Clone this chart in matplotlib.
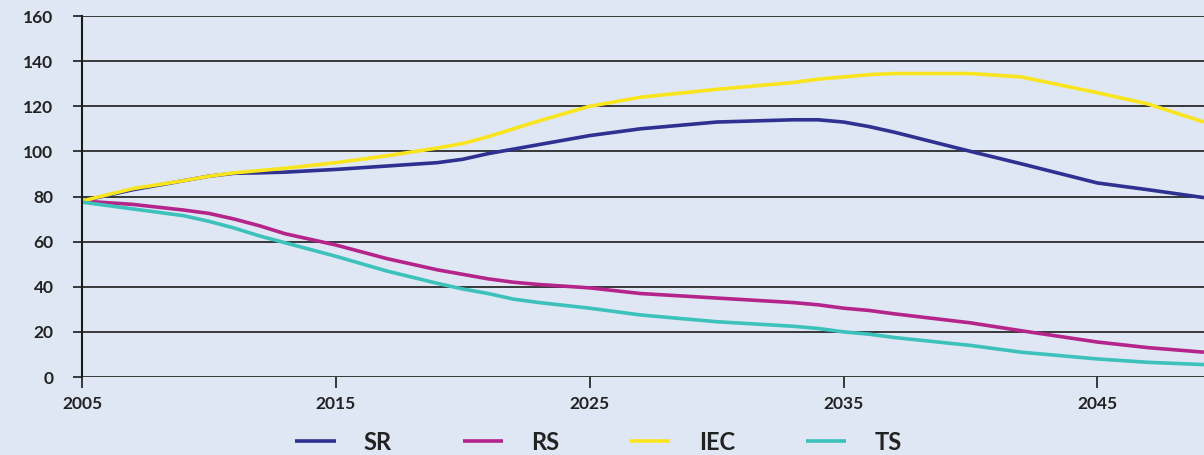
import numpy as np
import matplotlib
matplotlib.use("Agg")
from matplotlib import pyplot as plt

years = [2005, 2007, 2009, 2010, 2011, 2012, 2013, 2015, 2017, 2019, 2020, 2021, 2022, 2023,
         2025, 2027, 2030, 2033, 2034, 2035, 2036, 2037, 2040, 2042, 2045, 2047, 2049.2]

sr = [78, 83, 87, 89, 90.3, 90.5, 90.8, 92, 93.5, 95, 96.5, 99, 101, 103,
      107, 110, 113, 114, 114, 113, 111, 108.5, 100, 94.5, 86, 83, 79.5]
iec = [78, 83.5, 87, 89, 90.5, 91.5, 92.5, 95, 98, 101.5, 103.5, 106.5, 110, 113.5,
       120, 124, 127.5, 130.5, 132, 133, 134, 134.5, 134.5, 133, 126, 121, 113]
rs = [78, 76.5, 74, 72.5, 70, 67, 63.5, 58.5, 52.5, 47.5, 45.5, 43.5, 42, 41,
      39.5, 37, 35, 33, 32, 30.5, 29.5, 28, 24, 20.5, 15.5, 13, 11]
ts = [77.5, 74.5, 71.5, 69, 66, 62.5, 59.5, 53.5, 47, 41.5, 39, 37, 34.5, 33,
      30.5, 27.5, 24.5, 22.5, 21.5, 20, 19, 17.5, 14, 11, 8, 6.5, 5.5]

names = ["SR", "RS", "IEC", "TS"]
series = [sr, rs, iec, ts]
colors = ["#2e3191", "#b5248a", "#f9e51e", "#3cc1bb"]

bg = "#dfe7f4"
plt.rcParams['font.family'] = ['Lato', 'DejaVu Sans']

fig = plt.figure(figsize=(12.04, 4.55), dpi=100, facecolor=bg)
ax = fig.add_axes([82/1204, 78/455, 1 - 82/1204, (377-16)/455])
ax.set_facecolor(bg)

ax.set_ylim(0, 160)
ax.set_xlim(2005, 2049.2)
ax.set_yticks(range(0, 161, 20))
ax.set_xticks([2005, 2015, 2025, 2035, 2045])
ax.grid(axis='y', color='#2a2a2a', linewidth=1.3)
ax.set_axisbelow(True)
for s in ['top', 'right', 'bottom']:
    ax.spines[s].set_visible(False)
ax.spines['left'].set_color('#1a1a1a')
ax.spines['left'].set_linewidth(1.5)
ax.tick_params(axis='y', length=6.5, width=1.3, color='#2a2a2a', pad=14, labelsize=12.5)
ax.tick_params(axis='x', length=8, width=1.3, color='#2a2a2a', pad=6, labelsize=12.5)
for lab in ax.get_xticklabels() + ax.get_yticklabels():
    lab.set_fontweight('bold')
    lab.set_color('#222222')

lines = []
for nm, vals, c in zip(names, series, colors):
    l, = ax.plot(years, vals, color=c, linewidth=2.6, label=nm, clip_on=False,
                 solid_capstyle='butt', solid_joinstyle='round')
    lines.append(l)

leg = fig.legend(handles=lines, loc='center', bbox_to_anchor=(0.497, 0.028),
                 ncol=4, frameon=False, handlelength=1.7, handletextpad=1.2,
                 columnspacing=3.0, prop={'family': 'Lato', 'size': 17, 'weight': 'bold'})
for t in leg.get_texts():
    t.set_color('#222222')

fig.savefig("out.png", dpi=100, facecolor=bg)
